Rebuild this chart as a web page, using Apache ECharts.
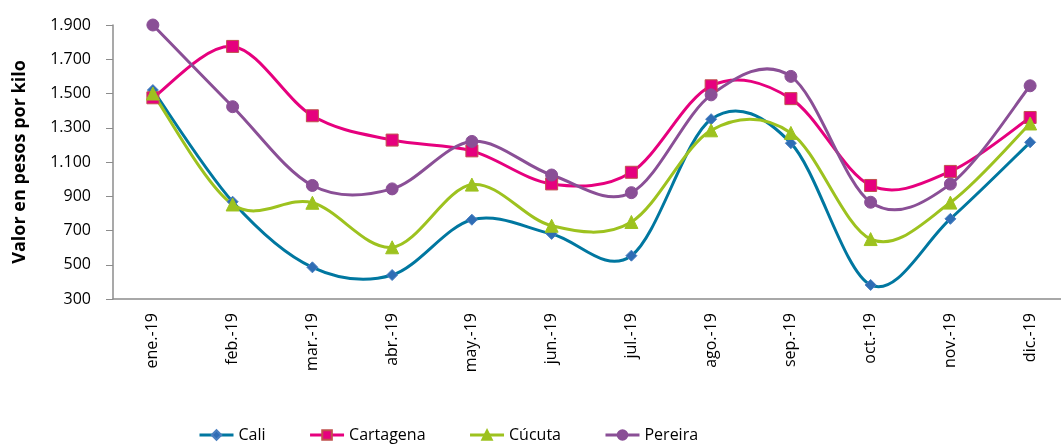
<!DOCTYPE html>
<html>
<head>
<meta charset="utf-8">
<script src="https://cdn.jsdelivr.net/npm/echarts@6/dist/echarts.min.js"></script>
<style>html,body{margin:0;padding:0;background:#fff}#c{width:1061px;height:448px}</style>
</head>
<body>
<div id="c"></div>
<script>
const categories = ['ene.-19','feb.-19','mar.-19','abr.-19','may.-19','jun.-19','jul.-19','ago.-19','sep.-19','oct.-19','nov.-19','dic.-19'];
const cali      = [1520, 868, 485, 440, 763, 680, 553, 1350, 1210, 382, 768, 1215];
const cartagena = [1475, 1775, 1370, 1228, 1165, 972, 1040, 1545, 1470, 963, 1045, 1360];
const cucuta    = [1500, 852, 862, 602, 968, 728, 750, 1285, 1270, 650, 863, 1325];
const pereira   = [1900, 1423, 963, 943, 1220, 1024, 921, 1492, 1600, 865, 971, 1545];
const yTicks = [300, 500, 700, 900, 1100, 1300, 1500, 1700, 1900];

const font = '"Open Sans", "Noto Sans", sans-serif';

// Excel-like (Catmull-Rom) smoothed curve drawn through the library's coordinate system
function curve(name, arr, color) {
  return {
    name, type: 'custom', coordinateSystem: 'cartesian2d', z: 2, silent: true,
    itemStyle: { color },
    data: arr.map((v, i) => [i, v]),
    encode: { x: 0, y: 1 },
    renderItem: function (params, api) {
      const i = params.dataIndex, n = arr.length;
      if (i >= n - 1) return null;
      const p = k => api.coord([Math.max(0, Math.min(n - 1, k)), arr[Math.max(0, Math.min(n - 1, k))]]);
      const p0 = p(i - 1), p1 = p(i), p2 = p(i + 1), p3 = p(i + 2);
      const t = 1 / 6;
      return {
        type: 'bezierCurve',
        shape: {
          x1: p1[0], y1: p1[1], x2: p2[0], y2: p2[1],
          cpx1: p1[0] + (p2[0] - p0[0]) * t, cpy1: p1[1] + (p2[1] - p0[1]) * t,
          cpx2: p2[0] - (p3[0] - p1[0]) * t, cpy2: p2[1] - (p3[1] - p1[1]) * t
        },
        style: { stroke: color, lineWidth: 3, fill: null }
      };
    }
  };
}
function marks(name, data, color, symbol, size, mColor, border) {
  return {
    name, type: 'line', data, symbol, symbolSize: size, z: 3,
    color: color,
    lineStyle: { color, width: 3, opacity: 0 },
    itemStyle: { color: mColor, borderColor: border, borderWidth: 1 }
  };
}
const legendItem = (name, color) => ({ name, lineStyle: { color, width: 3, opacity: 1 } });

const chart = echarts.init(document.getElementById('c'), null, { renderer: 'canvas' });
chart.setOption({
  animation: false,
  grid: { left: 113, right: -9, top: 25, bottom: 149, outerBoundsMode: 'none' },
  legend: {
    bottom: 0, left: 193, itemGap: 43, itemWidth: 34, itemHeight: 12,
    textStyle: { fontFamily: font, fontSize: 16, color: '#000' },
    data: [legendItem('Cali', '#0077A0'), legendItem('Cartagena', '#E6007E'),
           legendItem('Cúcuta', '#9DC21F'), legendItem('Pereira', '#8A4F96')]
  },
  xAxis: {
    type: 'category', data: categories, boundaryGap: true,
    axisLine: { lineStyle: { color: '#8c8c8c', width: 1.5 } },
    axisTick: { show: false },
    axisLabel: { rotate: 90, fontFamily: font, fontSize: 16, color: '#000', margin: 14 }
  },
  yAxis: {
    type: 'value', min: yTicks[0], max: yTicks[yTicks.length - 1], interval: 200,
    name: 'Valor en pesos por kilo', nameLocation: 'middle', nameGap: 84, nameRotate: 90,
    nameTextStyle: { fontFamily: font, fontSize: 18, fontWeight: 'bold', color: '#000' },
    axisLine: { show: true, lineStyle: { color: '#8c8c8c', width: 1.5 } },
    axisTick: { show: true, length: 7, lineStyle: { color: '#8c8c8c' } },
    splitLine: { show: false },
    axisLabel: {
      fontFamily: font, fontSize: 16, color: '#000', margin: 22,
      formatter: v => v.toString().replace(/\B(?=(\d{3})+(?!\d))/g, '.')
    }
  },
  series: [
    marks('Cali', cali, '#0077A0', 'diamond', 11, '#2F6DB5', '#4a7fc0'),
    marks('Cartagena', cartagena, '#E6007E', 'rect', 12, '#E6007E', '#C0504D'),
    marks('Cúcuta', cucuta, '#9DC21F', 'triangle', 13, '#9DC21F', '#9DC21F'),
    marks('Pereira', pereira, '#8A4F96', 'circle', 12, '#8A4F96', '#8A4F96'),
    curve('Cali', cali, '#0077A0'),
    curve('Cartagena', cartagena, '#E6007E'),
    curve('Cúcuta', cucuta, '#9DC21F'),
    curve('Pereira', pereira, '#8A4F96')
  ]
});
</script>
</body>
</html>
